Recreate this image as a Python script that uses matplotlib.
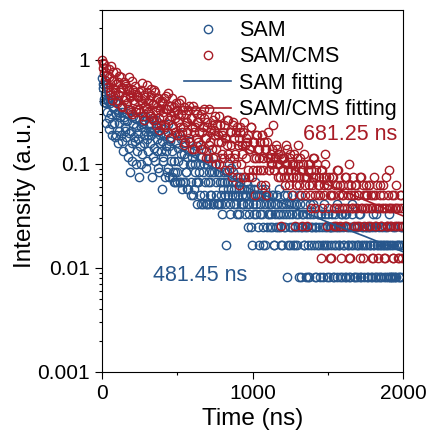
import matplotlib
matplotlib.use('Agg')
import matplotlib.pyplot as plt
import matplotlib.ticker as ticker
import numpy as np

plt.rcParams['font.family'] = ['Liberation Sans', 'DejaVu Sans']

# time grid of the decay traces (ns), 4 ns per channel
dt = 4

# photon counts per channel (SAM: max 121, SAM/CMS: max 80)
sam_norm = 121.0
sam_counts = [
    80, 71, 65, 51, 47, 57, 46, 30, 38, 51, 49, 26, 33, 49, 46, 36, 29, 23, 42, 51,
    30, 22, 47, 36, 23, 49, 38, 19, 25, 30, 34, 23, 42, 38, 20, 16, 32, 34, 27, 25,
    22, 31, 37, 14, 17, 24, 10, 40, 25, 13, 19, 29, 35, 22, 20, 33, 27, 12, 16, 24,
    21, 33, 9, 18, 27, 12, 15, 29, 31, 23, 19, 35, 25, 11, 13, 21, 23, 16, 29, 25,
    19, 23, 29, 9, 14, 32, 25, 17, 13, 27, 32, 16, 21, 11, 10, 25, 23, 19, 16, 7,
    20, 14, 13, 26, 24, 9, 16, 18, 10, 29, 11, 9, 18, 20, 22, 13, 9, 16, 10, 8,
    13, 10, 8, 19, 10, 8, 17, 13, 24, 8, 8, 21, 15, 7, 8, 12, 19, 15, 8, 10,
    10, 14, 7, 7, 16, 20, 12, 8, 6, 12, 14, 6, 7, 16, 12, 10, 8, 5, 18, 8,
    8, 10, 12, 6, 5, 14, 14, 5, 10, 12, 6, 8, 5, 16, 12, 5, 8, 10, 5, 6,
    8, 6, 12, 10, 5, 5, 10, 12, 14, 8, 6, 5, 5, 10, 10, 5, 8, 6, 5, 8,
    4, 7, 8, 10, 6, 5, 2, 8, 10, 6, 7, 12, 5, 4, 11, 7, 6, 10, 8, 5,
    7, 6, 5, 8, 9, 4, 6, 7, 4, 9, 8, 5, 6, 7, 5, 5, 7, 6, 4, 8,
    6, 5, 3, 7, 5, 4, 7, 6, 3, 2, 6, 5, 4, 7, 8, 4, 5, 6, 6, 3,
    2, 6, 5, 4, 6, 7, 4, 3, 2, 5, 7, 2, 5, 6, 3, 4, 6, 5, 4, 3,
    5, 4, 3, 6, 6, 2, 2, 5, 4, 3, 5, 6, 3, 4, 7, 3, 4, 5, 2, 2,
    4, 5, 6, 3, 3, 4, 5, 6, 1, 2, 4, 5, 2, 3, 5, 4, 3, 2, 6, 5,
    3, 2, 5, 4, 2, 3, 4, 1, 6, 5, 1, 3, 3, 4, 4, 2, 2, 3, 5, 1,
    4, 3, 2, 1, 1, 4, 5, 2, 3, 3, 4, 5, 2, 1, 3, 3, 1, 2, 4, 4,
    3, 2, 1, 4, 4, 3, 2, 1, 5, 2, 3, 4, 2, 3, 1, 2, 4, 1, 3, 3,
    2, 3, 4, 1, 3, 2, 1, 4, 2, 3, 5, 1, 3, 2, 2, 3, 1, 4, 4, 1,
    3, 2, 2, 4, 1, 1, 4, 3, 2, 2, 3, 1, 1, 3, 2, 4, 5, 2, 3, 1,
    1, 3, 2, 1, 3, 2, 2, 4, 4, 1, 1, 2, 3, 3, 2, 1, 0, 2, 3, 3,
    2, 1, 1, 3, 3, 2, 2, 1, 1, 3, 4, 2, 2, 1, 3, 4, 1, 2, 2, 1,
    3, 2, 1, 1, 2, 3, 0, 2, 2, 1, 3, 2, 1, 3, 2, 1, 4, 2, 1, 1,
    2, 1, 1, 2, 3, 1, 1, 3, 2, 1, 0, 2, 2, 1, 1, 2, 3, 1, 2, 3,
]

cms_norm = 80.0
cms_counts = [
    80, 75, 66, 73, 60, 51, 47, 67, 57, 44, 41, 65, 54, 39, 37, 70, 50, 33, 43, 61,
    51, 41, 37, 61, 47, 31, 33, 49, 56, 37, 39, 54, 43, 28, 29, 43, 49, 33, 35, 47,
    45, 43, 31, 27, 41, 55, 35, 37, 25, 24, 50, 41, 33, 31, 39, 45, 27, 25, 37, 35,
    35, 39, 27, 25, 41, 33, 31, 48, 23, 21, 37, 35, 29, 27, 46, 39, 25, 31, 33, 23,
    24, 37, 42, 22, 30, 30, 21, 41, 39, 19, 26, 28, 34, 34, 22, 17, 32, 26, 19, 32,
    31, 23, 25, 34, 19, 18, 36, 27, 27, 38, 16, 21, 29, 14, 23, 29, 34, 19, 18, 25,
    28, 22, 16, 31, 26, 15, 20, 24, 31, 18, 15, 33, 24, 16, 18, 26, 28, 12, 13, 20,
    24, 20, 16, 26, 29, 14, 13, 22, 22, 11, 18, 29, 11, 16, 26, 18, 14, 24, 20, 13,
    20, 16, 12, 22, 24, 11, 16, 18, 11, 27, 22, 14, 14, 9, 18, 20, 9, 12, 27, 16,
    13, 17, 19, 11, 9, 21, 17, 15, 23, 8, 11, 19, 15, 13, 8, 23, 19, 9, 13, 15,
    10, 16, 19, 9, 7, 14, 14, 21, 12, 10, 21, 7, 9, 16, 16, 12, 6, 19, 20, 9,
    14, 10, 8, 16, 18, 6, 12, 14, 5, 18, 16, 8, 10, 12, 6, 16, 20, 6, 12, 14,
    9, 13, 15, 7, 6, 11, 11, 18, 18, 6, 7, 13, 13, 9, 4, 15, 9, 7, 15, 11,
    9, 11, 13, 7, 5, 15, 15, 9, 7, 13, 11, 5, 4, 11, 13, 16, 9, 7, 7, 9,
    10, 8, 8, 11, 19, 7, 7, 9, 9, 12, 11, 8, 6, 10, 8, 6, 10, 9, 2, 7,
    7, 9, 9, 6, 5, 8, 12, 11, 8, 7, 6, 5, 10, 9, 7, 8, 4, 6, 8, 10,
    2, 7, 6, 5, 9, 8, 12, 6, 5, 9, 7, 4, 2, 7, 8, 10, 6, 5, 4, 6,
    2, 6, 7, 8, 5, 4, 8, 7, 3, 5, 6, 9, 9, 3, 4, 6, 7, 8, 5, 4,
    6, 5, 4, 7, 1, 3, 7, 6, 5, 4, 10, 8, 6, 5, 2, 3, 5, 6, 4, 1,
    1, 4, 6, 6, 4, 2, 3, 5, 2, 3, 5, 7, 7, 4, 3, 5, 2, 1, 4, 3,
    5, 4, 3, 2, 6, 6, 2, 3, 4, 5, 8, 1, 1, 4, 5, 3, 3, 6, 4, 2,
    3, 5, 5, 3, 2, 4, 4, 2, 1, 6, 6, 3, 3, 1, 5, 4, 2, 3, 4, 5,
    4, 3, 2, 5, 5, 2, 3, 4, 1, 3, 4, 1, 6, 4, 2, 2, 3, 5, 1, 3,
    3, 4, 5, 2, 2, 3, 4, 5, 3, 1, 1, 3, 6, 2, 2, 4, 7, 3, 3, 2,
    2, 3, 4, 1, 1, 4, 3, 2, 5, 3, 2, 1, 3, 2, 1, 4, 4, 3, 2, 1,
]

# fitted curves, read at a few times
sam_fit_t = [0, 10, 20, 30, 45, 60, 80, 100, 150, 250, 400, 600, 800, 1000, 1250, 1500, 1750, 2000]
sam_fit_i = [0.80, 0.63, 0.49, 0.40, 0.35, 0.33, 0.31, 0.30, 0.28, 0.235, 0.175, 0.118, 0.082, 0.056,
             0.039, 0.0275, 0.020, 0.0143]
cms_fit_t = [0, 10, 20, 35, 50, 75, 100, 150, 250, 500, 750, 1050, 1500, 2000]
cms_fit_i = [0.82, 0.72, 0.66, 0.61, 0.57, 0.535, 0.51, 0.47, 0.40, 0.275, 0.19, 0.122, 0.063, 0.0316]

blue = '#27568C'
red = '#A81C26'

sam = np.array(sam_counts, dtype=float) / sam_norm
cms = np.array(cms_counts, dtype=float) / cms_norm
sam_time = np.arange(len(sam)) * dt
cms_time = np.arange(len(cms)) * dt
# empty channels cannot go on a log axis
sam[sam <= 0] = np.nan
cms[cms <= 0] = np.nan

fig = plt.figure(figsize=(4.31, 4.43), dpi=100)
ax = fig.add_axes([0.2367, 0.1603, 0.6983, 0.8171])

l1, = ax.plot(sam_time, sam, 'o', ms=6, mfc='none', mec=blue, mew=1.0, label='SAM')
l2, = ax.plot(cms_time, cms, 'o', ms=6, mfc='none', mec=red, mew=1.0, label='SAM/CMS')
l3, = ax.plot(sam_fit_t, sam_fit_i, '-', color=blue, lw=1.2, label='SAM fitting')
l4, = ax.plot(cms_fit_t, cms_fit_i, '-', color=red, lw=1.2, label='SAM/CMS fitting')

# let markers spill past the left spine but cut them at the right one
clip = plt.Rectangle((-0.05, 0), 1.05, 1, transform=ax.transAxes, visible=False)
ax.add_patch(clip)
for ln in (l1, l2):
    ln.set_clip_path(clip)

ax.set_yscale('log')
ax.set_xlim(0, 2000)
ax.set_ylim(0.001, 3)
ax.xaxis.set_major_locator(ticker.MultipleLocator(1000))
ax.xaxis.set_minor_locator(ticker.MultipleLocator(500))
ax.yaxis.set_major_formatter(ticker.FormatStrFormatter('%g'))
ax.yaxis.set_minor_formatter(ticker.NullFormatter())
ax.tick_params(which='both', direction='out', labelsize=15, width=0.8)
ax.tick_params(which='major', length=5)
ax.tick_params(which='minor', length=2.5)
for sp in ax.spines.values():
    sp.set_linewidth(0.8)

ax.set_xlabel('Time (ns)', fontsize=17.5, labelpad=4)
ax.set_ylabel('Intensity (a.u.)', fontsize=17.5, labelpad=1)

ax.text(1960, 0.19, '681.25 ns', color=red, fontsize=15.5, ha='right', va='center')
ax.text(339, 0.0085, '481.45 ns', color=blue, fontsize=15.5, ha='left', va='center')

ax.legend(handles=[l1, l2, l3, l4], loc='upper right', bbox_to_anchor=(1.0, 0.99),
          frameon=False, fontsize=15.5, borderaxespad=0.1, borderpad=0.2,
          handlelength=2.2, handletextpad=0.35, labelspacing=0.25)

fig.savefig('out.png', dpi=100)
